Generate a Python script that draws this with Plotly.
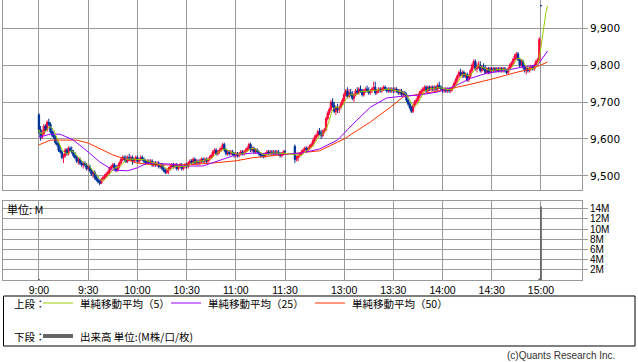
import plotly.graph_objects as go
import pandas as pd

W, H = 638, 362

# ---- time axis: minute index from 9:00 (lunch break compressed) ----
am_bars = list(range(0, 151))      # 9:00 - 11:30
pm_bars = list(range(156, 307))    # 12:30 - 15:00
bar_pos = am_bars + pm_bars
post_pos = [307, 308, 309, 310]    # closing values after 15:00 (used by MA)

tick_pos = [0, 30, 60, 90, 120, 150, 186, 216, 246, 276, 306]
tick_text = ["9:00", "9:30", "10:00", "10:30", "11:00", "11:30",
             "13:00", "13:30", "14:00", "14:30", "15:00"]

price_ticks = [9500, 9600, 9700, 9800, 9900]
vol_ticks = [2, 4, 6, 8, 10, 12, 14]
vol_tick_text = ["2M", "4M", "6M", "8M", "10M", "12M", "14M"]

# ---- 1-minute OHLC ----
opens = [
    9665,9625,9605,9615,9635,9625,9645,9640,9620,9610,
    9605,9590,9585,9570,9565,9550,9555,9570,9560,9575,
    9570,9565,9555,9550,9540,9545,9535,9530,9535,9530,
    9520,9525,9515,9505,9510,9495,9490,9485,9480,9490,
    9495,9500,9505,9510,9520,9525,9530,9520,9515,9525,
    9535,9545,9550,9545,9540,9550,9545,9550,9540,9545,
    9550,9540,9545,9550,9545,9540,9535,9540,9535,9540,
    9530,9535,9530,9535,9525,9530,9520,9515,9510,9515,
    9520,9525,9530,9525,9530,9520,9525,9530,9520,9525,
    9530,9525,9535,9540,9535,9545,9535,9540,9535,9540,
    9545,9540,9545,9540,9545,9550,9555,9565,9570,9560,
    9565,9570,9575,9585,9570,9560,9565,9560,9565,9560,
    9555,9560,9555,9560,9565,9560,9565,9570,9575,9585,
    9570,9575,9565,9570,9565,9560,9555,9555,9552,9560,
    9565,9560,9565,9560,9565,9560,9565,9560,9555,9560,
    9565,
    9580,9545,9550,9555,9560,9565,9570,9575,9570,9575,
    9580,9585,9595,9605,9610,9620,9615,9610,9620,9625,
    9655,9670,9680,9700,9690,9675,9685,9680,9685,9695,
    9705,9720,9730,9715,9725,9720,9710,9720,9730,9725,
    9735,9730,9720,9730,9735,9730,9725,9730,9735,9740,
    9725,9730,9735,9730,9735,9740,9735,9730,9735,9730,
    9735,9730,9735,9730,9725,9730,9720,9725,9720,9705,
    9695,9685,9675,9690,9700,9705,9715,9725,9730,9735,
    9740,9730,9740,9735,9740,9735,9740,9735,9745,9740,
    9735,9730,9735,9730,9735,9730,9735,9740,9750,9760,
    9770,9780,9775,9780,9770,9775,9760,9770,9785,9800,
    9810,9790,9795,9800,9785,9795,9790,9780,9790,9780,
    9790,9785,9790,9785,9790,9785,9790,9785,9790,9785,
    9780,9790,9800,9805,9815,9825,9830,9815,9800,9810,
    9795,9785,9790,9785,9790,9795,9790,9800,9810,9815,
    9960,
]
highs = [
    9670,9635,9625,9640,9640,9650,9655,9645,9630,9620,
    9610,9600,9590,9580,9570,9560,9575,9575,9580,9580,
    9580,9570,9565,9555,9550,9550,9540,9540,9540,9535,
    9530,9530,9520,9515,9515,9505,9500,9490,9495,9500,
    9505,9510,9515,9525,9530,9535,9535,9530,9530,9540,
    9550,9555,9555,9555,9555,9560,9555,9555,9550,9555,
    9555,9550,9555,9555,9550,9545,9545,9545,9545,9545,
    9540,9540,9540,9540,9535,9535,9530,9520,9520,9525,
    9530,9535,9535,9535,9535,9530,9535,9535,9530,9535,
    9535,9540,9545,9545,9550,9550,9545,9545,9545,9550,
    9550,9550,9550,9550,9555,9560,9570,9575,9575,9570,
    9575,9580,9590,9590,9575,9570,9570,9570,9570,9565,
    9565,9565,9565,9570,9570,9570,9575,9580,9590,9590,
    9580,9580,9575,9575,9570,9565,9560,9560,9565,9570,
    9570,9570,9570,9570,9570,9570,9570,9565,9565,9570,
    9570,
    9585,9555,9560,9565,9570,9575,9580,9580,9580,9585,
    9590,9600,9610,9615,9625,9630,9625,9625,9630,9660,
    9675,9685,9705,9710,9700,9690,9695,9690,9700,9710,
    9725,9735,9740,9735,9735,9730,9725,9735,9740,9740,
    9745,9735,9735,9740,9745,9740,9735,9740,9755,9755,
    9735,9740,9740,9740,9745,9745,9740,9740,9740,9740,
    9740,9740,9740,9735,9735,9735,9730,9730,9725,9710,
    9700,9690,9695,9705,9710,9720,9730,9735,9740,9745,
    9745,9745,9745,9745,9745,9745,9745,9750,9755,9745,
    9740,9740,9740,9740,9740,9740,9745,9755,9765,9775,
    9785,9790,9785,9785,9780,9780,9775,9790,9805,9815,
    9815,9805,9810,9810,9800,9805,9800,9795,9795,9795,
    9795,9795,9795,9795,9795,9795,9795,9795,9795,9790,
    9795,9805,9810,9820,9830,9835,9835,9820,9815,9815,
    9800,9795,9795,9795,9800,9800,9805,9815,9820,9875,
    9960,
]
lows = [
    9615,9595,9600,9610,9620,9620,9635,9615,9605,9600,
    9585,9580,9565,9560,9545,9535,9550,9555,9555,9565,
    9560,9550,9545,9535,9530,9530,9525,9520,9525,9515,
    9515,9510,9500,9495,9490,9485,9480,9475,9478,9485,
    9490,9495,9500,9505,9515,9520,9515,9510,9512,9520,
    9530,9540,9540,9535,9535,9540,9540,9530,9535,9540,
    9535,9535,9540,9540,9535,9530,9530,9530,9530,9525,
    9525,9525,9525,9520,9520,9515,9510,9505,9505,9505,
    9515,9520,9520,9520,9515,9515,9520,9515,9515,9520,
    9520,9520,9530,9530,9530,9530,9530,9530,9530,9535,
    9535,9535,9535,9535,9540,9545,9550,9560,9555,9555,
    9560,9565,9570,9565,9555,9555,9555,9555,9555,9550,
    9550,9550,9550,9555,9555,9555,9560,9565,9570,9565,
    9565,9560,9560,9560,9555,9550,9550,9548,9550,9555,
    9555,9555,9555,9555,9555,9555,9555,9550,9550,9555,
    9560,
    9535,9540,9540,9550,9555,9560,9565,9565,9565,9570,
    9575,9580,9590,9600,9605,9610,9600,9605,9615,9620,
    9650,9665,9675,9685,9670,9665,9670,9670,9680,9690,
    9700,9715,9710,9710,9715,9705,9700,9715,9720,9720,
    9725,9715,9715,9725,9725,9720,9720,9725,9730,9720,
    9720,9725,9725,9725,9730,9730,9725,9725,9725,9725,
    9725,9725,9725,9720,9720,9715,9715,9715,9700,9690,
    9680,9670,9670,9685,9695,9700,9710,9720,9725,9730,
    9725,9725,9730,9730,9730,9730,9730,9730,9735,9730,
    9725,9725,9725,9725,9725,9725,9730,9735,9745,9755,
    9765,9770,9765,9765,9765,9755,9755,9765,9780,9790,
    9785,9780,9790,9780,9780,9785,9775,9775,9775,9775,
    9780,9780,9780,9780,9780,9780,9780,9780,9780,9775,
    9775,9785,9795,9800,9810,9815,9810,9795,9795,9790,
    9780,9775,9780,9780,9785,9785,9785,9795,9805,9810,
    9960,
]
closes = [
    9625,9605,9615,9635,9625,9645,9640,9620,9610,9605,
    9590,9585,9570,9565,9550,9555,9570,9560,9575,9570,
    9565,9555,9550,9540,9545,9535,9530,9535,9530,9520,
    9525,9515,9505,9510,9495,9490,9485,9480,9490,9495,
    9500,9505,9510,9520,9525,9530,9520,9515,9525,9535,
    9545,9550,9545,9540,9550,9545,9550,9540,9545,9550,
    9540,9545,9550,9545,9540,9535,9540,9535,9540,9530,
    9535,9530,9535,9525,9530,9520,9515,9510,9515,9520,
    9525,9530,9525,9530,9520,9525,9530,9520,9525,9530,
    9525,9535,9540,9535,9545,9535,9540,9535,9540,9545,
    9540,9545,9540,9545,9550,9555,9565,9570,9560,9565,
    9570,9575,9585,9570,9560,9565,9560,9565,9560,9555,
    9560,9555,9560,9565,9560,9565,9570,9575,9585,9570,
    9575,9565,9570,9565,9560,9555,9555,9552,9560,9565,
    9560,9565,9560,9565,9560,9565,9560,9555,9560,9565,
    9565,
    9545,9550,9555,9560,9565,9570,9575,9570,9575,9580,
    9585,9595,9605,9610,9620,9615,9610,9620,9625,9655,
    9670,9680,9700,9690,9675,9685,9680,9685,9695,9705,
    9720,9730,9715,9725,9720,9710,9720,9730,9725,9735,
    9730,9720,9730,9735,9730,9725,9730,9735,9740,9725,
    9730,9735,9730,9735,9740,9735,9730,9735,9730,9735,
    9730,9735,9730,9725,9730,9720,9725,9720,9705,9695,
    9685,9675,9690,9700,9705,9715,9725,9730,9735,9740,
    9730,9740,9735,9740,9735,9740,9735,9745,9740,9735,
    9730,9735,9730,9735,9730,9735,9740,9750,9760,9770,
    9780,9775,9780,9770,9775,9760,9770,9785,9800,9810,
    9790,9795,9800,9785,9795,9790,9780,9790,9780,9790,
    9785,9790,9785,9790,9785,9790,9785,9790,9785,9780,
    9790,9800,9805,9815,9825,9830,9815,9800,9810,9795,
    9785,9790,9785,9790,9795,9790,9800,9810,9815,9870,
    9960,
]
post_closes = [9960, 9960, 9960, 9960]

# ---- moving averages 25 / 50 (include previous-day bars) ----
ma25_pos = [0, 7, 13, 21, 30, 37, 45, 54, 60, 66, 80, 90, 100, 110, 120, 130,
            150, 160, 171, 182, 192, 202, 212, 222, 232, 243, 252, 263, 273,
            285, 295, 304, 310]
ma25_val = [9605, 9613, 9613, 9597, 9565, 9538, 9516, 9514, 9522, 9535, 9532,
            9527, 9527, 9543, 9557, 9562, 9559, 9562, 9573, 9597, 9643, 9686,
            9711, 9716, 9719, 9727, 9740, 9764, 9778, 9786, 9795, 9800, 9838]
ma50_pos = [0, 7, 23, 30, 45, 54, 60, 70, 90, 106, 120, 130, 150, 159, 171,
            186, 202, 216, 222, 232, 246, 261, 276, 289, 301, 310]
ma50_val = [9584, 9597, 9597, 9589, 9557, 9543, 9535, 9530, 9530, 9535, 9541,
            9549, 9559, 9562, 9568, 9600, 9646, 9692, 9714, 9721, 9732, 9746,
            9762, 9778, 9791, 9808]

# ---- volume (millions) ----
vol_pos = [0, 305, 306]
vol_val = [0.2, 0.3, 14.4]

ma5 = pd.Series(closes + post_closes).rolling(5, min_periods=1).mean().tolist()
ma5_pos = bar_pos + post_pos

def px(x):
    return x / W

def py(y):
    return 1 - y / H

GRID = "#999999"
XR = [-21.9, 331.0]
UP, DOWN = "#FF0A3C", "#00339A"

fig = go.Figure()

# candles drawn as wick + body bars on the price axes
up_idx = [i for i in range(len(bar_pos)) if closes[i] > opens[i]]
dn_idx = [i for i in range(len(bar_pos)) if closes[i] <= opens[i]]
for idx, col in ((up_idx, UP), (dn_idx, DOWN)):
    fig.add_trace(go.Bar(
        x=[bar_pos[i] for i in idx], base=[lows[i] for i in idx],
        y=[highs[i] - lows[i] for i in idx], width=0.6,
        marker=dict(color=col, line=dict(width=0)), hoverinfo="skip",
        xaxis="x", yaxis="y"))
    fig.add_trace(go.Bar(
        x=[bar_pos[i] for i in idx], base=[min(opens[i], closes[i]) for i in idx],
        y=[max(abs(closes[i] - opens[i]), 1) for i in idx], width=0.8,
        marker=dict(color=col, line=dict(color=col, width=1)), hoverinfo="skip",
        xaxis="x", yaxis="y"))

fig.add_trace(go.Scatter(x=ma50_pos, y=ma50_val, mode="lines",
                         line=dict(color="#FF3300", width=1), hoverinfo="skip",
                         xaxis="x", yaxis="y"))
fig.add_trace(go.Scatter(x=ma25_pos, y=ma25_val, mode="lines",
                         line=dict(color="#9900FF", width=1), hoverinfo="skip",
                         xaxis="x", yaxis="y"))
fig.add_trace(go.Scatter(x=ma5_pos, y=ma5, mode="lines",
                         line=dict(color="#99CC00", width=1), hoverinfo="skip",
                         xaxis="x", yaxis="y"))
fig.add_trace(go.Bar(x=vol_pos, y=vol_val, width=1.1, marker_color="#666666",
                     marker_line_width=0, hoverinfo="skip", xaxis="x2", yaxis="y2"))

axis_common = dict(showgrid=True, gridcolor=GRID, gridwidth=1, zeroline=False,
                   showline=True, mirror=True, linecolor=GRID, linewidth=1,
                   fixedrange=True)

fig.update_layout(
    width=W, height=H, autosize=False,
    margin=dict(l=0, r=0, t=0, b=0),
    paper_bgcolor="white", plot_bgcolor="white",
    showlegend=False, barmode="overlay",
    xaxis=dict(domain=[px(3), px(582)], range=XR, anchor="y",
               tickvals=tick_pos, showticklabels=False, ticks="",
               **axis_common),
    yaxis=dict(domain=[py(190), 1], range=[9462, 9976], side="right",
               tickvals=price_ticks, tickformat=",", ticks="outside",
               ticklen=5, tickcolor=GRID,
               tickfont=dict(family="DejaVu Sans", size=10.5, color="#000"),
               **axis_common),
    xaxis2=dict(domain=[px(3), px(582)], range=XR, anchor="y2",
                tickvals=tick_pos, ticktext=tick_text, ticks="",
                tickfont=dict(family="Liberation Sans Narrow, Liberation Sans", size=10.5,
                              color="#000"),
                **axis_common),
    yaxis2=dict(domain=[py(280), py(201)], range=[0, 15.5], side="right",
                tickvals=vol_ticks, ticktext=vol_tick_text, ticks="outside",
                ticklen=5, tickcolor=GRID,
                tickfont=dict(family="Liberation Sans Narrow, Liberation Sans", size=10,
                              color="#000"),
                **axis_common),
)

JP = "Noto Sans CJK JP"
ann = []
def text(x, y, s, size=10, anchor="left", color="#000", family=JP):
    ann.append(dict(x=px(x), y=py(y), xref="paper", yref="paper", text=s,
                    showarrow=False, xanchor=anchor, yanchor="middle",
                    font=dict(family=family, size=size, color=color)))

text(5, 209, "単位: M", size=11)
text(12, 303, "上段：", size=10.5)
text(78, 303, "単純移動平均（5）", size=10.5)
text(206, 303, "単純移動平均（25）", size=10.5)
text(350, 303, "単純移動平均（50）", size=10.5)
text(12, 336, "下段：", size=10.5)
text(78, 336, "出来高 単位:(M株/口/枚)", size=10.5)
text(617, 355, "(c)Quants Research Inc.", size=10, anchor="right", color="#333",
     family="Liberation Sans")
fig.update_layout(annotations=ann)

shapes = [dict(type="rect", xref="paper", yref="paper", x0=px(3.5), x1=px(635),
               y0=py(296), y1=py(346), line=dict(color="#000", width=1))]
for x0, x1, c, w, y in [(43, 73, "#99CC00", 1, 303), (171, 201, "#9900FF", 1, 303),
                        (315, 345, "#FF3300", 1, 303), (43, 73, "#666666", 4, 336)]:
    shapes.append(dict(type="line", xref="paper", yref="paper", x0=px(x0), x1=px(x1),
                       y0=py(y), y1=py(y), line=dict(color=c, width=w)))
fig.update_layout(shapes=shapes)

fig.write_html("out.html", config={"displayModeBar": False, "staticPlot": True},
               post_script="document.body.style.margin='0';document.body.style.overflow='hidden';")
